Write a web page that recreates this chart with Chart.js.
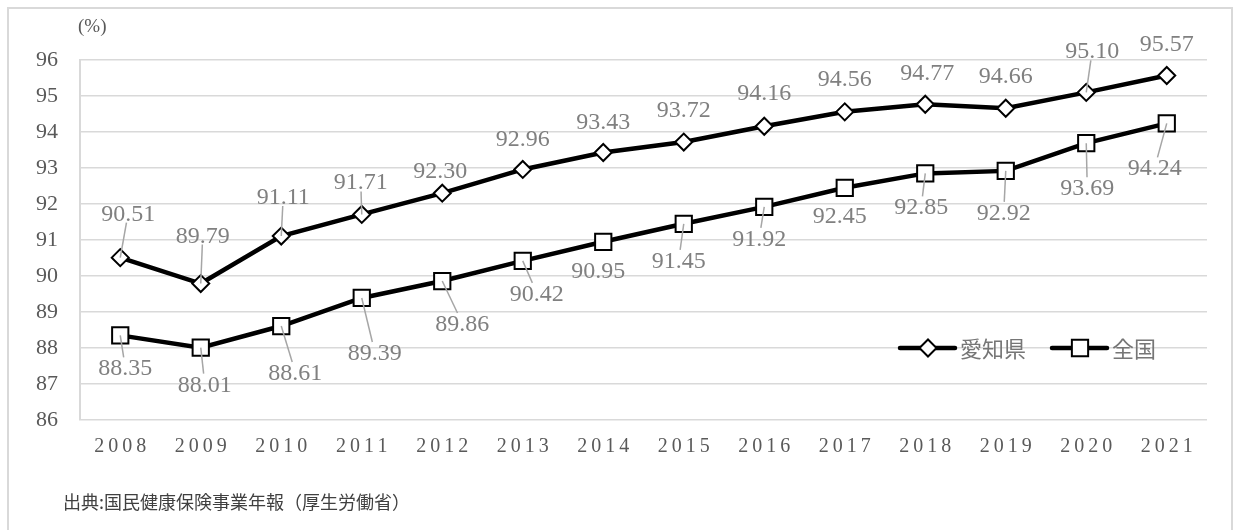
<!DOCTYPE html>
<html>
<head>
<meta charset="utf-8">
<script src="https://cdn.jsdelivr.net/npm/chart.js@4.4.1/dist/chart.umd.min.js"></script>
<style>
  body { margin: 0; background: #fff; }
  #wrap { position: relative; width: 1237px; height: 530px; overflow: hidden; }
  #frame { position: absolute; left: 7px; top: 7px; width: 1226px; height: 540px; border: 2px solid #d9d9d9; box-sizing: border-box; }
  #chart { position: absolute; left: 0; top: 0; }
  #source { position: absolute; left: 63px; top: 488px; font: 18px "Noto Sans CJK JP", sans-serif; color: #404040; }
</style>
</head>
<body>
<div id="wrap">
  <div id="frame"></div>
  <canvas id="chart" width="1237" height="530"></canvas>
  <div id="source">出典:国民健康保険事業年報（厚生労働省）</div>
</div>
<script>
const years = ['2008', '2009', '2010', '2011', '2012', '2013', '2014', '2015', '2016', '2017', '2018', '2019', '2020', '2021'];
const aichi = [90.51, 89.79, 91.11, 91.71, 92.30, 92.96, 93.43, 93.72, 94.16, 94.56, 94.77, 94.66, 95.10, 95.57];
const zenkoku = [88.35, 88.01, 88.61, 89.39, 89.86, 90.42, 90.95, 91.45, 91.92, 92.45, 92.85, 92.92, 93.69, 94.24];
const seriesNames = ['愛知県', '全国'];
const yMin = 86;
const yMax = 96;
const unitLabel = '(%)';

// label placement relative to each point: [dx, dy, leader line?]
const aichiLabelPlaces = [[8, -45, true], [2, -49, true], [2, -40, true], [-1, -33, true], [-2, -23, false], [0, -31, false], [0, -32, false],
  [0, -33, false], [0, -34, false], [0, -34, false], [2, -32, false], [0, -33, false], [6, -42, true], [0, -32, false]];
const zenkokuLabelPlaces = [[5, 32, true], [4, 36, true], [14, 46, true], [13, 54, true], [20, 42, true], [14, 32, true], [-5, 28, false],
  [-5, 36, true], [-5, 31, true], [-5, 27, false], [-4, 33, true], [-2, 41, true], [1, 44, true], [-12, 44, true]];
const labelPlaces = [aichiLabelPlaces, zenkokuLabelPlaces];

const serif = '"Liberation Serif", "Times New Roman", serif';

// spaced-out year labels on the x axis
const spacedXLabels = {
  id: 'spacedXLabels',
  beforeDraw(chart) {
    const sx = chart.scales.x;
    if (sx._spaced) return;
    const orig = sx.drawLabels;
    sx.drawLabels = function(area) {
      const c = this.ctx;
      const prev = c.letterSpacing;
      c.letterSpacing = '4px';
      c.save();
      c.translate(2, 0);
      orig.call(this, area);
      c.restore();
      c.letterSpacing = prev;
    };
    sx._spaced = true;
  }
};

const valueLabels = {
  id: 'valueLabels',
  afterDatasetsDraw(chart) {
    const ctx = chart.ctx;
    ctx.save();
    ctx.font = '24px ' + serif;
    ctx.textAlign = 'center';
    ctx.textBaseline = 'alphabetic';
    chart.data.datasets.forEach((ds, di) => {
      const meta = chart.getDatasetMeta(di);
      meta.data.forEach((pt, i) => {
        const [dx, dy, leader] = labelPlaces[di][i];
        const lx = pt.x + dx;
        const ly = pt.y + dy;
        const text = ds.data[i].toFixed(2);
        if (leader) {
          const hw = ctx.measureText(text).width / 2 + 2;
          const hh = 10;
          const vx = pt.x - lx;
          const vy = pt.y - ly;
          const t = Math.min(vx ? hw / Math.abs(vx) : Infinity, vy ? hh / Math.abs(vy) : Infinity);
          ctx.strokeStyle = '#a6a6a6';
          ctx.lineWidth = 1.5;
          ctx.beginPath();
          ctx.moveTo(lx + vx * t, ly + vy * t);
          ctx.lineTo(pt.x, pt.y);
          ctx.stroke();
        }
        ctx.fillStyle = '#808080';
        ctx.fillText(text, lx, ly + 8);
      });
    });
    ctx.restore();
  }
};

const extras = {
  id: 'extras',
  afterDraw(chart) {
    const ctx = chart.ctx;
    const area = chart.chartArea;
    ctx.save();
    // unit label
    ctx.font = '19px ' + serif;
    ctx.fillStyle = '#595959';
    ctx.textAlign = 'left';
    ctx.textBaseline = 'middle';
    ctx.fillText(unitLabel, area.left - 2, 27);

    // legend inside the plot, lower right
    let x = area.right - 307;
    const y = area.bottom - 72;
    ctx.font = '22px "Noto Sans CJK JP", sans-serif';
    chart.data.datasets.forEach(ds => {
      ctx.strokeStyle = '#000';
      ctx.lineWidth = 4.5;
      ctx.lineCap = 'round';
      ctx.beginPath();
      ctx.moveTo(x, y);
      ctx.lineTo(x + 55, y);
      ctx.stroke();
      ctx.fillStyle = '#fff';
      ctx.strokeStyle = '#000';
      ctx.lineWidth = ds.pointBorderWidth;
      Chart.helpers.drawPoint(ctx, { pointStyle: ds.pointStyle, radius: ds.pointRadius, borderWidth: ds.pointBorderWidth, rotation: 0 }, x + 28, y);
      ctx.fillStyle = '#767676';
      ctx.fillText(ds.label, x + 60, y + 1);
      x += 60 + ctx.measureText(ds.label).width + 26;
    });
    ctx.restore();
  }
};

new Chart(document.getElementById('chart'), {
  type: 'line',
  data: {
    labels: years,
    datasets: [
      {
        label: seriesNames[0],
        data: aichi,
        borderColor: '#000',
        borderWidth: 4.5,
        pointStyle: 'rectRot',
        pointRadius: 8.5,
        pointBorderWidth: 2,
        pointBackgroundColor: '#fff',
        pointBorderColor: '#000',
        tension: 0
      },
      {
        label: seriesNames[1],
        data: zenkoku,
        borderColor: '#000',
        borderWidth: 4.5,
        pointStyle: 'rect',
        pointRadius: 11.5,
        pointBorderWidth: 2,
        pointBackgroundColor: '#fff',
        pointBorderColor: '#000',
        tension: 0
      }
    ]
  },
  options: {
    responsive: false,
    animation: false,
    devicePixelRatio: 1,
    layout: { padding: { top: 60, right: 30, left: 0, bottom: 0 } },
    plugins: {
      legend: { display: false },
      tooltip: { enabled: false }
    },
    scales: {
      x: {
        offset: true,
        grid: { display: false, drawTicks: false },
        border: { display: false },
        ticks: { color: '#595959', font: { family: serif, size: 20 }, padding: 15, maxRotation: 0 },
        afterFit: s => { s.height = 110; }
      },
      y: {
        min: yMin,
        max: yMax,
        grid: { color: '#d9d9d9', lineWidth: 1.5, drawTicks: false },
        border: { display: true, color: '#d9d9d9', width: 2 },
        ticks: { stepSize: 1, color: '#595959', font: { family: serif, size: 22 }, padding: 22 },
        afterFit: s => { s.width = 80; }
      }
    }
  },
  plugins: [spacedXLabels, valueLabels, extras]
});
</script>
</body>
</html>
